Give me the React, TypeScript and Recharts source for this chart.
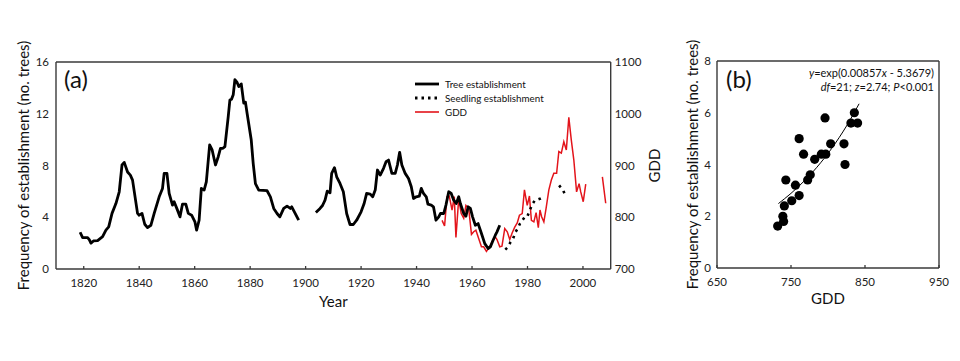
import React from 'react';
import { ComposedChart, Line, XAxis, YAxis, Scatter, ReferenceLine, Legend, Label } from 'recharts';

// ---- Panel (a) data ----
const treeYears = [
  1818.7, 1819.6, 1821.4, 1822.0, 1822.6, 1823.5, 1825.0, 1826.8, 1828.0, 1829.0,
  1830.2, 1831.6, 1832.8, 1833.8, 1834.6, 1835.8, 1836.8, 1837.6, 1839.4, 1840.0,
  1841.0, 1842.0, 1843.0, 1844.2, 1845.4, 1847.2, 1848.4, 1849.0, 1850.0, 1850.8,
  1852.0, 1852.6, 1853.8, 1854.7, 1855.6, 1856.8, 1857.7, 1858.9, 1860.1, 1860.7,
  1861.6, 1862.4, 1863.4, 1864.2, 1865.4, 1866.3, 1867.5, 1868.5, 1869.3, 1870.2,
  1870.9, 1872.1, 1872.7, 1873.3, 1873.9, 1874.5, 1875.3, 1875.9, 1876.8, 1877.7,
  1878.3, 1878.9, 1880.4, 1881.1, 1881.9, 1883.1, 1886.1, 1887.3, 1888.5, 1889.7,
  1890.7, 1892.1, 1893.3, 1894.5, 1895.0, 1897.5,
  1901.0,
  1903.7, 1905.2, 1906.1, 1907.0, 1907.8, 1908.8, 1909.4, 1910.4, 1911.2, 1912.4,
  1913.6, 1914.8, 1916.0, 1917.2, 1918.4, 1920.0, 1921.1, 1922.0, 1923.3, 1924.2,
  1925.1, 1925.9, 1926.9, 1928.1, 1929.0, 1929.9, 1931.1, 1932.3, 1933.1, 1933.9,
  1934.7, 1935.9, 1937.1, 1938.1, 1938.9, 1939.9, 1941.0, 1941.7, 1942.5, 1943.5,
  1944.1, 1945.3, 1946.1, 1947.0, 1948.0, 1948.6, 1949.8, 1950.6, 1951.6, 1952.5,
  1953.4, 1954.3, 1955.2, 1955.8, 1957.0, 1957.8, 1958.6, 1959.4, 1960.2, 1961.2,
  1962.2, 1963.4, 1964.6, 1965.8, 1966.6, 1967.6, 1968.4, 1969.0, 1970.0,
];
const treeValues: (number | null)[] = [
  2.84, 2.43, 2.43, 2.27, 2.0, 2.17, 2.2, 2.5, 3.0, 3.25,
  4.3, 5.06, 5.97, 8.04, 8.24, 7.5, 7.26, 6.87, 4.3, 4.16,
  4.3, 3.46, 3.2, 3.38, 4.3, 5.58, 6.23, 7.39, 7.39, 5.84,
  4.94, 5.2, 4.55, 4.03, 5.01, 5.01, 4.3, 4.16, 3.64, 3.0,
  3.77, 6.23, 6.1, 6.74, 9.59, 9.2, 8.04, 8.68, 9.33, 9.33,
  9.46, 11.78, 13.07, 13.13, 13.46, 14.63, 14.42, 14.1, 14.31, 12.82,
  12.9, 12.04, 9.97, 8.17, 6.6, 6.1, 6.05, 5.58, 4.68, 4.29,
  4.03, 4.68, 4.86, 4.68, 4.81, 3.77,
  null,
  4.37, 4.68, 4.91, 5.32, 6.02, 5.89, 7.39, 7.83, 7.13, 6.61,
  5.97, 4.29, 3.44, 3.44, 3.77, 4.42, 5.06, 5.84, 5.79, 5.58,
  6.1, 7.65, 7.26, 7.78, 8.29, 8.42, 7.39, 7.39, 8.04, 9.02,
  8.04, 7.39, 7.0, 6.36, 5.45, 5.58, 5.63, 6.23, 5.84, 5.58,
  5.01, 4.94, 4.81, 3.77, 4.03, 4.29, 4.29, 4.94, 5.97, 5.84,
  5.32, 5.06, 5.58, 5.06, 4.29, 4.08, 4.81, 4.68, 4.03, 3.38,
  3.51, 2.74, 1.96, 1.58, 1.71, 2.22, 2.61, 2.87, 3.38,
];

const seedlingYears = [
  1972.0, 1973.0, 1973.9, 1974.8, 1975.7, 1976.5, 1977.3, 1978.2, 1979.0, 1979.9,
  1981.1, 1981.9, 1982.7, 1983.7, 1984.7, 1985.5,
  1989.0,
  1991.4, 1992.9, 1993.7,
];
const seedlingValues: (number | null)[] = [
  1.5, 1.71, 2.09, 2.35, 2.87, 3.13, 3.51, 3.77, 4.03, 4.03,
  4.68, 5.06, 5.32, 5.37, 5.45, 5.53,
  null,
  6.46, 6.07, 5.63,
];

const gddYears = [
  1949.2, 1950.1, 1951.0, 1951.8, 1952.8, 1953.6, 1954.2, 1955.2, 1956.1, 1957.0,
  1957.8, 1958.8, 1959.8, 1960.6, 1961.4, 1962.4, 1963.4, 1964.2, 1965.2, 1966.4,
  1967.5, 1968.4, 1969.0, 1970.0, 1970.8, 1971.8, 1972.7, 1973.6, 1974.5, 1975.4,
  1976.3, 1977.1, 1978.1, 1978.9, 1979.9, 1980.7, 1981.4, 1982.3, 1983.1, 1983.9,
  1984.5, 1985.1, 1985.9, 1986.7, 1987.7, 1988.6, 1989.5, 1990.5, 1991.3, 1992.2,
  1993.1, 1994.0, 1994.9, 1995.8, 1996.7, 1997.7, 1998.6, 1999.2, 2000.1, 2001.0,
  2004.0,
  2007.0, 2008.2,
];
const gddValues: (number | null)[] = [
  794, 783, 840, 841, 814, 840, 761, 836, 807, 798,
  823, 817, 767, 772, 775, 759, 743, 743, 734, 743,
  756, 762, 757, 743, 744, 778, 772, 757, 770, 781,
  789, 804, 807, 853, 823, 841, 794, 791, 809, 780,
  814, 801, 791, 817, 853, 872, 885, 885, 927, 924,
  946, 930, 993, 949, 911, 849, 865, 849, 830, 864,
  null,
  878, 827,
];

const yearTicks = [1820, 1840, 1860, 1880, 1900, 1920, 1940, 1960, 1980, 2000];
const freqTicks = [0, 4, 8, 12, 16];
const gddAxisTicks = [700, 800, 900, 1000, 1100];

// ---- Panel (b) data ----
const scatterGdd = [732, 739, 740, 741, 743, 751, 756, 761, 761, 767, 772.5, 776, 782, 791, 796, 797, 803.6, 821.6, 823, 831, 835.6, 840];
const scatterFreq = [1.62, 2.0, 1.8, 2.4, 3.4, 2.6, 3.2, 2.8, 5.0, 4.4, 3.4, 3.6, 4.2, 4.4, 5.8, 4.4, 4.8, 4.8, 4.0, 5.6, 6.0, 5.6];
const fitGdd = [733, 750, 770, 790, 810, 830, 842];
const fitFreq = [2.49, 2.885, 3.425, 4.065, 4.825, 5.727, 6.347];
const bGddTicks = [650, 750, 850, 950];
const bFreqTicks = [0, 2, 4, 6, 8];

const treeData = treeYears.map((year, i) => ({ year, v: treeValues[i] }));
const seedlingData = seedlingYears.map((year, i) => ({ year, v: seedlingValues[i] }));
const gddData = gddYears.map((year, i) => ({ year, v: gddValues[i] }));
const scatterData = scatterGdd.map((g, i) => ({ g, f: scatterFreq[i] }));
const fitData = fitGdd.map((g, i) => ({ g, f: fitFreq[i] }));

const FONT = 'Lato, "Open Sans", sans-serif';
const AXIS = '#3a3a3a';
const RED = '#e3141b';

const InTick = (props: any) => {
  const { x, y, payload } = props;
  return (
    <g>
      <line x1={x} x2={x} y1={y} y2={y - 3} stroke={AXIS} strokeWidth={1.3} />
      <text x={x} y={y + 18} textAnchor="middle" fontSize={11.5} fill="#222" fontFamily={FONT}>
        {payload.value}
      </text>
    </g>
  );
};

const legendItems = [
  { label: 'Tree establishment', color: '#000', width: 2.8, dash: undefined as string | undefined },
  { label: 'Seedling establishment', color: '#000', width: 2.8, dash: '2.5 4' },
  { label: 'GDD', color: RED, width: 1.6, dash: undefined },
];

const LegendBox = () => (
  <div style={{ fontFamily: FONT, fontSize: 9.8, color: '#111', lineHeight: '14px' }}>
    {legendItems.map((it) => (
      <div key={it.label} style={{ display: 'flex', alignItems: 'center', height: 14 }}>
        <svg width={28} height={10} style={{ marginRight: 3 }}>
          <line x1={1} x2={25} y1={5} y2={5} stroke={it.color} strokeWidth={it.width} strokeDasharray={it.dash} />
        </svg>
        <span>{it.label}</span>
      </div>
    ))}
  </div>
);

const Dot = (props: any) => <circle cx={props.cx} cy={props.cy} r={4.6} fill="#000" />;

export default function App() {
  return (
    <div style={{ position: 'absolute', left: 0, top: 0, width: 960, height: 361, background: '#fff', fontFamily: FONT }}>
      <div style={{ position: 'absolute', left: 0, top: 0 }}>
        <ComposedChart width={700} height={361} margin={{ top: 62, right: 0, bottom: 62, left: 0 }}>
          <XAxis
            xAxisId="x"
            type="number"
            dataKey="year"
            domain={[1810, 2010]}
            ticks={yearTicks}
            allowDataOverflow
            height={30}
            tickSize={0}
            tickMargin={0}
            tickLine={false}
            tick={<InTick />}
            stroke={AXIS}
            strokeWidth={1.4}
          >
            <Label value="Year" position="center" dy={18} fontSize={15} fill="#111" fontFamily={FONT} />
          </XAxis>
          <YAxis
            yAxisId="left"
            domain={[0, 16]}
            ticks={freqTicks}
            width={56}
            tickSize={0}
            tickMargin={7}
            tickLine={false}
            tick={{ fontSize: 11.5, fill: '#222', fontFamily: FONT }}
            stroke={AXIS}
            strokeWidth={1.4}
          >
            <Label
              value="Frequency of establishment (no. trees)"
              position="center"
              angle={-90}
              dx={-4}
              fontSize={15}
              fill="#111"
              fontFamily={FONT}
            />
          </YAxis>
          <YAxis
            yAxisId="right"
            orientation="right"
            domain={[700, 1100]}
            ticks={gddAxisTicks}
            width={89.3}
            tickSize={0}
            tickMargin={4}
            tickLine={false}
            tick={{ fontSize: 11.5, fill: '#222', fontFamily: FONT }}
            stroke={AXIS}
            strokeWidth={1.4}
          >
            <Label value="GDD" position="center" angle={-90} dx={-1} fontSize={15} fill="#111" fontFamily={FONT} />
          </YAxis>
          <ReferenceLine xAxisId="x" yAxisId="left" y={16} stroke={AXIS} strokeWidth={1.4} />
          <Line
            xAxisId="x"
            yAxisId="right"
            data={gddData}
            dataKey="v"
            stroke={RED}
            strokeWidth={1.5}
            dot={false}
            activeDot={false}
            connectNulls={false}
            isAnimationActive={false}
            type="linear"
          />
          <Line
            xAxisId="x"
            yAxisId="left"
            data={treeData}
            dataKey="v"
            stroke="#000"
            strokeWidth={2.8}
            dot={false}
            activeDot={false}
            connectNulls={false}
            isAnimationActive={false}
            type="linear"
            strokeLinejoin="round"
          />
          <Line
            xAxisId="x"
            yAxisId="left"
            data={seedlingData}
            dataKey="v"
            stroke="#000"
            strokeWidth={2.6}
            strokeDasharray="2.5 4.5"
            dot={false}
            activeDot={false}
            connectNulls={false}
            isAnimationActive={false}
            type="linear"
          />
          <Legend
            layout="vertical"
            align="center"
            verticalAlign="middle"
            content={() => <LegendBox />}
            wrapperStyle={{ position: 'absolute', left: 414, top: 77, width: 'auto' }}
          />
        </ComposedChart>
      </div>
      <div style={{ position: 'absolute', left: 64, top: 66, fontSize: 24, lineHeight: '26px', color: '#111' }}>(a)</div>

      <div style={{ position: 'absolute', left: 640, top: 0 }}>
        <ComposedChart width={320} height={361} margin={{ top: 61, right: 21, bottom: 63, left: 0 }}>
          <XAxis
            type="number"
            dataKey="g"
            domain={[650, 950]}
            ticks={bGddTicks}
            allowDataOverflow
            height={30}
            tickSize={0}
            tickMargin={0}
            tickLine={false}
            tick={<InTick />}
            stroke={AXIS}
            strokeWidth={1.4}
          >
            <Label value="GDD" position="center" dy={16} fontSize={15} fill="#111" fontFamily={FONT} />
          </XAxis>
          <YAxis
            type="number"
            dataKey="f"
            domain={[0, 8]}
            ticks={bFreqTicks}
            width={77}
            tickSize={0}
            tickMargin={6}
            tickLine={false}
            tick={{ fontSize: 11.5, fill: '#222', fontFamily: FONT }}
            stroke={AXIS}
            strokeWidth={1.4}
          >
            <Label
              value="Frequency of establishment (no. trees)"
              position="center"
              angle={-90}
              dx={14}
              fontSize={15}
              fill="#111"
              fontFamily={FONT}
            />
          </YAxis>
          <ReferenceLine y={8} stroke={AXIS} strokeWidth={1.4} />
          <ReferenceLine x={950} stroke={AXIS} strokeWidth={1.4} />
          <Scatter data={scatterData} dataKey="f" shape={<Dot />} isAnimationActive={false} />
          <Line
            data={fitData}
            dataKey="f"
            stroke="#000"
            strokeWidth={1}
            dot={false}
            activeDot={false}
            isAnimationActive={false}
            type="monotone"
          />
        </ComposedChart>
      </div>
      <div style={{ position: 'absolute', left: 726, top: 66, fontSize: 24, lineHeight: '26px', color: '#111' }}>(b)</div>
      <div
        style={{
          position: 'absolute',
          right: 960 - 934,
          top: 66,
          fontSize: 11,
          lineHeight: '14px',
          textAlign: 'right',
          color: '#111',
          whiteSpace: 'nowrap',
        }}
      >
        <div>
          <i>y</i>=exp(0.00857<i>x</i> - 5.3679)
        </div>
        <div>
          <i>df</i>=21; <i>z</i>=2.74; <i>P</i>&lt;0.001
        </div>
      </div>
    </div>
  );
}
